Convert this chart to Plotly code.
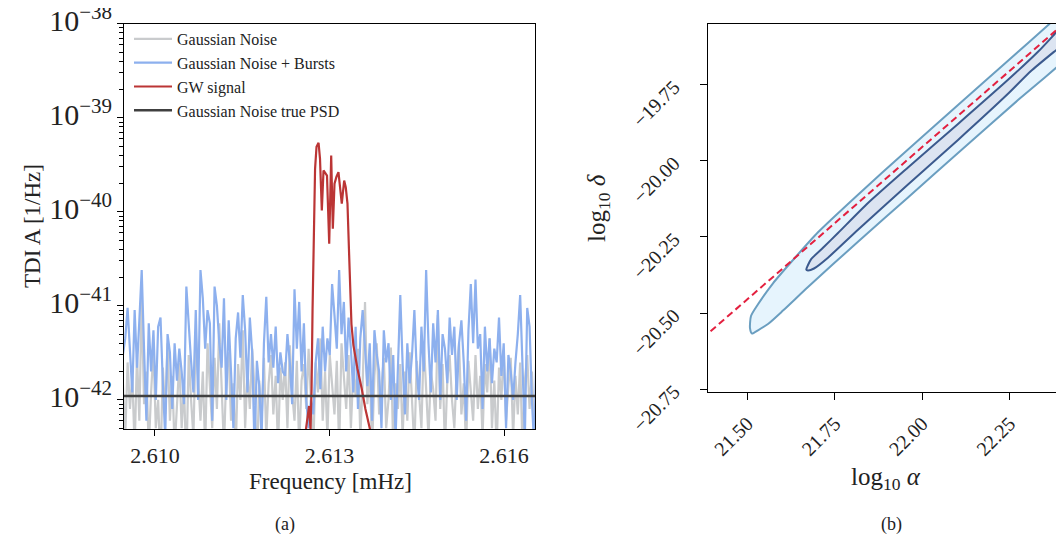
import plotly.graph_objects as go

# ---------------- Panel (a): TDI A spectra (values in units of 1e-42 1/Hz) ----------------
UNIT = 1e-42
freq_start, freq_stop, n_bins = 2.60945, 2.61668, 180   # mHz, frequency bins

noise_bursts = [
    3.0, 4.5, 9.5, 3.0, 1.2, 9.0, 2.2, 7.0, 24.0, 3.5,
    0.6, 6.5, 2.0, 5.5, 1.0, 6.0, 7.5, 1.5, 0.4, 5.0,
    3.2, 0.8, 4.0, 1.6, 3.5, 2.0, 0.9, 16.0, 6.0, 2.6,
    1.2, 9.0, 1.0, 24.0, 12.0, 3.5, 9.0, 6.5, 0.6, 16.0,
    10.0, 4.0, 2.2, 12.0, 1.0, 7.0, 2.0, 0.5, 4.5, 8.5,
    2.8, 13.0, 5.5, 1.2, 7.5, 3.2, 0.3, 2.6, 1.4, 0.4,
    4.0, 12.5, 2.5, 5.0, 2.2, 6.0, 1.5, 3.2, 2.0, 1.8,
    5.0, 2.5, 0.9, 15.0, 3.5, 11.0, 2.0, 6.5, 1.0, 0.5,
    1.0, 0.7, 2.5, 4.5, 1.3, 6.0, 2.0, 4.5, 3.0, 17.0,
    8.0, 3.5, 24.0, 5.0, 11.0, 2.0, 7.5, 3.5, 1.2, 6.0,
    0.8, 4.5, 9.0, 3.0, 1.4, 4.0, 0.6, 5.5, 3.0, 2.0,
    0.5, 5.5, 2.5, 4.0, 1.0, 3.0, 0.4, 2.2, 13.0, 2.4,
    0.7, 4.0, 1.5, 3.0, 9.0, 2.0, 1.0, 6.0, 2.0, 24.0,
    4.0, 1.2, 6.5, 2.5, 9.0, 1.0, 5.0, 3.5, 1.5, 7.5,
    3.0, 6.0, 1.0, 4.0, 7.0, 2.5, 0.6, 5.5, 17.0, 4.0,
    19.0, 3.5, 5.0, 0.8, 6.0, 2.0, 4.5, 1.5, 3.5, 2.5,
    7.5, 1.8, 4.0, 0.5, 3.0, 2.0, 1.0, 2.5, 5.0, 13.0,
    2.0, 0.4, 9.5, 6.0, 1.0, 0.3, 4.5, 7.0, 6.5, 3.0,
]

noise_gauss = [
    1.5, 0.4, 2.5, 0.8, 1.8, 0.3, 3.0, 0.6, 12.0, 0.9,
    2.0, 0.3, 1.2, 3.5, 0.5, 1.0, 0.2, 2.2, 0.7, 4.0,
    0.6, 1.8, 0.3, 1.0, 2.5, 0.5, 1.4, 0.2, 3.0, 1.0,
    0.4, 5.0, 1.5, 0.6, 2.0, 0.3, 4.0, 1.2, 0.5, 2.8,
    0.8, 6.5, 1.0, 0.3, 2.0, 3.2, 0.6, 1.5, 0.3, 2.4,
    1.0, 5.5, 0.5, 2.0, 0.8, 3.5, 1.3, 0.2, 1.6, 0.6,
    2.8, 0.4, 1.5, 3.0, 0.7, 1.8, 0.3, 2.2, 1.0, 2.5,
    0.5, 3.8, 1.2, 0.6, 2.6, 0.3, 1.6, 2.4, 0.8, 3.5,
    1.0, 0.3, 2.5, 1.2, 4.5, 0.6, 2.0, 0.4, 3.0, 1.4,
    0.7, 2.6, 0.3, 4.0, 1.8, 0.8, 3.0, 0.5, 2.0, 1.1,
    3.5, 0.4, 1.5, 11.0, 0.9, 2.2, 0.3, 1.8, 4.0, 0.7,
    1.4, 2.8, 0.5, 1.0, 3.6, 0.3, 1.5, 0.8, 2.4, 0.4,
    2.0, 0.6, 3.2, 1.0, 0.3, 2.6, 1.2, 0.5, 4.2, 1.0,
    0.4, 2.0, 1.3, 0.6, 8.0, 0.8, 2.4, 0.3, 1.6, 3.0,
    1.0, 0.5, 2.2, 4.0, 0.7, 1.5, 0.3, 2.6, 1.1, 0.6,
    3.0, 0.8, 1.8, 0.4, 2.4, 1.2, 4.5, 0.5, 1.6, 0.3,
    2.2, 1.0, 3.4, 0.6, 1.4, 2.8, 0.4, 1.8, 0.7, 2.5,
    0.3, 1.6, 3.0, 0.8, 2.0, 0.5, 1.2, 4.0, 6.5, 2.0,
]

gw_freq = [2.612572, 2.612623, 2.612649, 2.612674, 2.612692, 2.612709, 2.612726,
           2.612752, 2.612777, 2.612812, 2.612837, 2.612868, 2.612897, 2.612932,
           2.612957, 2.612995, 2.613029, 2.613057, 2.613086, 2.613120, 2.613154,
           2.613211, 2.613252, 2.613279, 2.613309, 2.613334, 2.613355, 2.613377,
           2.613411, 2.613480, 2.613554, 2.613617, 2.613698, 2.613754]
gw_signal = [0.38, 0.71, 0.86, 0.49, 1.31, 9.3, 51.6,
             286, 491, 542, 366, 103, 275, 260,
             243, 45.7, 397, 65.9, 199, 236, 264,
             122, 215, 183, 122, 40.4, 12.9, 6.4,
             3.8, 2.14, 1.31, 0.80, 0.48, 0.34]

psd_true = 1.1  # x 1e-42

# ---------------- Panel (b): posterior contours ----------------
outer_alpha = [21.5077, 21.5134, 21.5306, 21.5592, 21.6021, 21.6736, 21.8166, 21.9597,
               22.1027, 22.2743, 22.4288, 22.5317, 22.4745, 22.3600, 22.2457, 22.1027,
               21.9597, 21.8166, 21.7022, 21.6307, 21.5735, 21.5306, 21.5106, 21.5077]
outer_delta = [-20.5500, -20.5674, -20.5568, -20.5361, -20.4921, -20.4146, -20.2658, -20.1202,
               -19.9741, -19.8006, -19.6505, -19.5480, -19.4405, -19.5545, -19.6715, -19.8164,
               -19.9626, -20.1114, -20.2349, -20.3259, -20.4024, -20.4714, -20.5099, -20.5500]

inner_alpha = [21.6688, 21.6736, 21.6908, 21.7308, 21.8166, 21.9597, 22.1027, 22.2457,
               22.3114, 22.4078, 22.4201, 22.4244, 22.4201, 22.4087, 22.3944, 22.3744,
               22.3315, 22.2457, 22.1027, 21.9597, 21.8452, 21.7594, 21.7165, 21.6822, 21.6688]
inner_delta = [-20.3578, -20.3604, -20.3538, -20.3183, -20.2264, -20.0775, -19.9313, -19.7799,
               -19.7050, -19.6130, -19.5999, -19.5802, -19.5637, -19.5581, -19.5637, -19.5894,
               -19.6419, -19.7339, -19.8788, -20.0217, -20.1386, -20.2372, -20.2858, -20.3239, -20.3578]

true_alpha = [21.30, 22.50]
true_delta = [-20.655, -19.455]

# ---------------- Build figure ----------------
step = (freq_stop - freq_start) / (n_bins - 1)
freqs = [freq_start + i * step for i in range(n_bins)]

FONT = "Liberation Serif"
fig = go.Figure()

fig.add_trace(go.Scatter(x=freqs, y=[v * UNIT for v in noise_gauss], mode="lines",
                         line=dict(color="#c9cbcd", width=2.2), name="Gaussian Noise",
                         xaxis="x", yaxis="y"))
fig.add_trace(go.Scatter(x=freqs, y=[v * UNIT for v in noise_bursts], mode="lines",
                         line=dict(color="#8db0ee", width=2.2), name="Gaussian Noise + Bursts",
                         xaxis="x", yaxis="y"))
fig.add_trace(go.Scatter(x=gw_freq, y=[v * UNIT for v in gw_signal], mode="lines",
                         line=dict(color="#bb3535", width=2.2), name="GW signal",
                         xaxis="x", yaxis="y"))
fig.add_trace(go.Scatter(x=[freqs[0], freqs[-1]], y=[psd_true * UNIT] * 2, mode="lines",
                         line=dict(color="#404040", width=2.6), name="Gaussian Noise true PSD",
                         xaxis="x", yaxis="y"))

fig.add_trace(go.Scatter(x=outer_alpha, y=outer_delta, mode="lines", fill="toself",
                         fillcolor="#e6f4fd", line=dict(color="#6a9ec0", width=2, shape="spline", smoothing=0.6),
                         showlegend=False, xaxis="x2", yaxis="y2", hoverinfo="skip"))
fig.add_trace(go.Scatter(x=inner_alpha, y=inner_delta, mode="lines", fill="toself",
                         fillcolor="#dce4f1", line=dict(color="#3b5a8e", width=2, shape="spline", smoothing=0.6),
                         showlegend=False, xaxis="x2", yaxis="y2", hoverinfo="skip"))
fig.add_trace(go.Scatter(x=true_alpha, y=true_delta, mode="lines",
                         line=dict(color="#e3203f", width=2, dash="7px,4px"),
                         showlegend=False, xaxis="x2", yaxis="y2"))

W, H = 1064, 543
def px(x):
    return x / W
def py(y):
    return 1 - y / H

axis_common = dict(showline=True, linecolor="black", linewidth=1.2, showgrid=False,
                   zeroline=False, ticks="outside", tickcolor="black", automargin=False,
                   tickfont=dict(family=FONT, size=22, color="#222"))
small_font = dict(family=FONT, size=20, color="#222")

yrange_a = [-42.31, -37.998]

fig.update_layout(
    width=W, height=H, margin=dict(l=0, r=0, t=0, b=0, autoexpand=False),
    paper_bgcolor="white", plot_bgcolor="white",
    font=dict(family=FONT, color="#222"),
    xaxis=dict(domain=[px(116), px(527)], anchor="y", range=[2.609469, 2.616531],
               tickvals=[2.610, 2.613, 2.616], ticktext=["2.610", "2.613", "2.616"],
               ticklen=6, mirror=True, **axis_common),
    yaxis=dict(domain=[py(421), py(15.5)], anchor="x", type="log", range=yrange_a,
               tickmode="linear", tick0=0, dtick=1, exponentformat="power", showexponent="all",
               ticklen=6, mirror=True, ticklabelshift=-3, ticklabeloverflow="allow",
               minor=dict(ticks="outside", ticklen=4, tickwidth=1, tickcolor="black",
                          dtick="D1", showgrid=False),
               **{**axis_common, "tickfont": dict(family=FONT, size=24, color="#222")}),
    xaxis2=dict(domain=[px(700), 1.0], anchor="y2", range=[21.3876, 22.4288],
                tickvals=[21.5, 21.75, 22.0, 22.25], ticktext=["21.50", "21.75", "22.00", "22.25"],
                tickangle=-45, ticklen=7, mirror=True, ticklabelstandoff=4,
                **{**axis_common, "tickfont": small_font}),
    yaxis2=dict(domain=[py(384), py(16)], anchor="x2", range=[-20.7595, -19.5506],
                tickvals=[-20.75, -20.5, -20.25, -20.0, -19.75],
                ticktext=["−20.75", "−20.50", "−20.25", "−20.00", "−19.75"],
                tickangle=-45, ticklen=7, mirror=False, ticklabelstandoff=22,
                **{**axis_common, "tickfont": small_font}),
    legend=dict(x=px(121), y=py(14), xanchor="left", yanchor="top",
                bgcolor="rgba(0,0,0,0)", font=dict(family=FONT, size=16, color="#222"),
                itemwidth=38, tracegroupgap=0),
    showlegend=True,
)

annos = [
    dict(text="TDI A [1/Hz]", x=px(24), y=py(218), textangle=-90, size=23),
    dict(text="Frequency [mHz]", x=px(322), y=py(473), textangle=0, size=23),
    dict(text="log<sub>10</sub> <i>α</i>", x=px(878), y=py(470), textangle=0, size=25),
    dict(text="log<sub>10</sub> <i>δ</i>", x=px(591), y=py(200), textangle=-90, size=25),
    dict(text="(a)", x=px(277), y=py(516), textangle=0, size=18),
    dict(text="(b)", x=px(883), y=py(516), textangle=0, size=18),
]
for a in annos:
    fig.add_annotation(text=a["text"], x=a["x"], y=a["y"], xref="paper", yref="paper",
                       xanchor="center", yanchor="middle", showarrow=False, textangle=a["textangle"],
                       font=dict(family=FONT, size=a["size"], color="#222"))

fig.write_html("out.html")
